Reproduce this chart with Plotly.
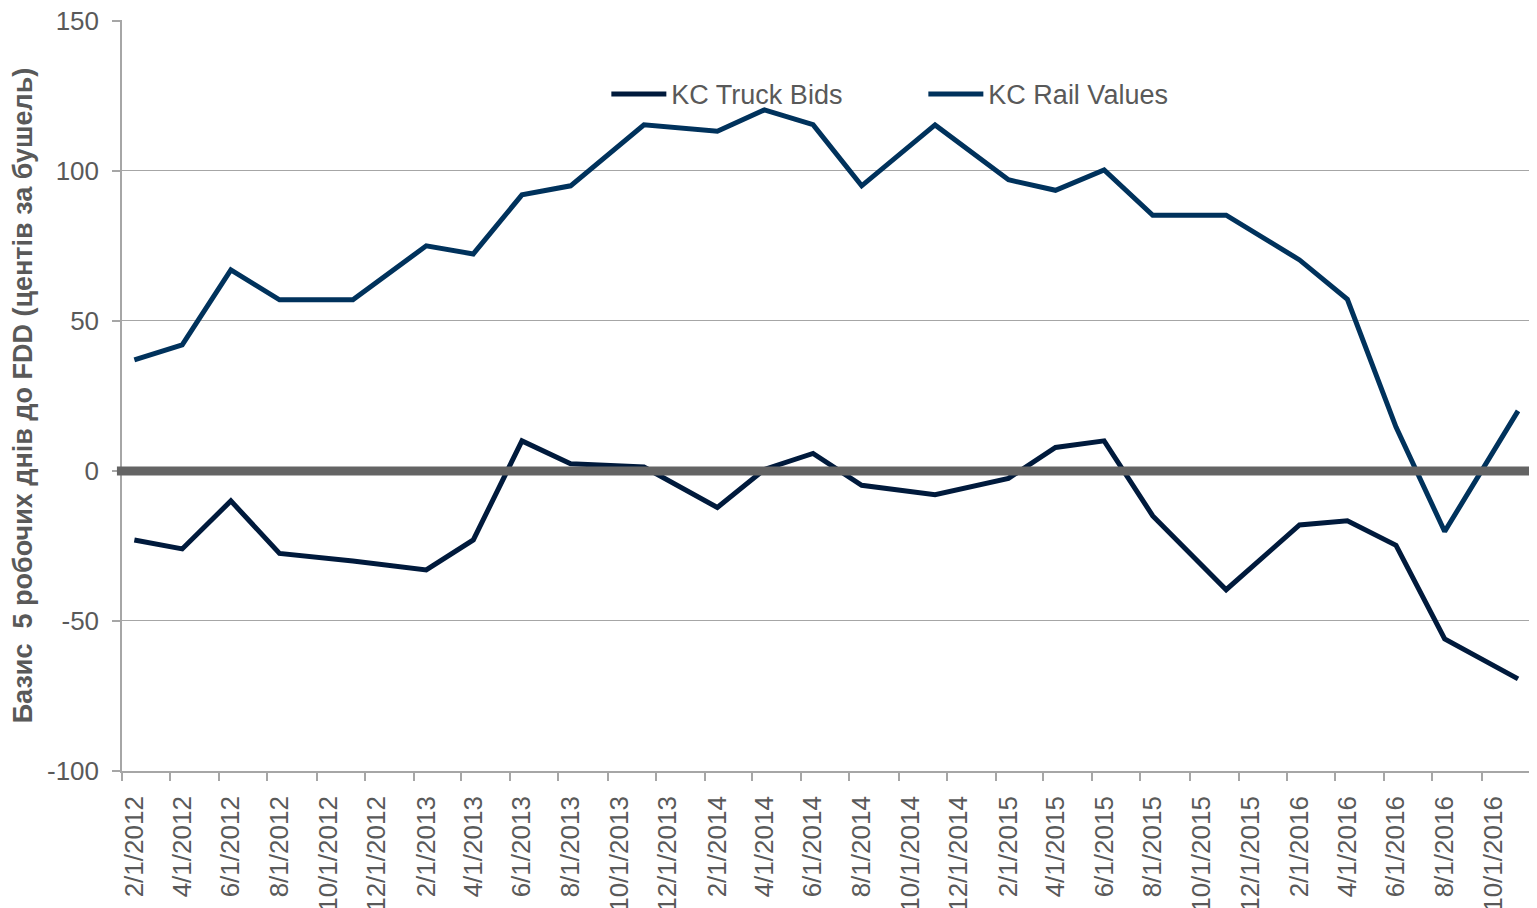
import plotly.graph_objects as go

dates = ["2012-02-01", "2012-04-01", "2012-06-01", "2012-08-01", "2012-11-01",
         "2013-02-01", "2013-04-01", "2013-06-01", "2013-08-01", "2013-11-01",
         "2014-02-01", "2014-04-01", "2014-06-01", "2014-08-01", "2014-11-01",
         "2015-02-01", "2015-04-01", "2015-06-01", "2015-08-01", "2015-11-01",
         "2016-02-01", "2016-04-01", "2016-06-01", "2016-08-01", "2016-11-01"]

truck_bids = [-23, -26, -10, -27.5, -30, -33, -23, 10, 2.4, 1.3,
              -12.2, 0.5, 5.8, -4.8, -7.9, -2.5, 7.8, 10, -15, -39.6,
              -18, -16.6, -24.8, -56, -69.3]

rail_values = [37, 42, 67, 57, 57, 75, 72.3, 92, 95, 115.3,
               113.2, 120.3, 115.4, 95, 115.3, 97, 93.5, 100.3, 85.2, 85.2,
               70.3, 57.2, 14.6, -20.2, 20]

y_ticks = [-100, -50, 0, 50, 100, 150]
y_tick_labels = ["-100", "-50", "0", "50", "100", "150"]

tick_dates = []
tick_labels = []
for y in range(2012, 2017):
    for m in (2, 4, 6, 8, 10, 12):
        if (y == 2016 and m > 10):
            continue
        tick_dates.append(f"{y}-{m:02d}-01")
        tick_labels.append(f"{m}/1/{y}")

GRAY_TXT = "#595959"
AXIS = "#A6A6A6"
FONT = "Liberation Sans, Arial, sans-serif"

fig = go.Figure()
fig.add_trace(go.Scatter(x=dates, y=truck_bids, mode="lines", name="KC Truck Bids",
                         line=dict(color="#001A3C", width=5)))
fig.add_trace(go.Scatter(x=dates, y=rail_values, mode="lines", name="KC Rail Values",
                         line=dict(color="#00325C", width=5)))

fig.add_shape(type="line", xref="paper", yref="y", x0=-0.0036, x1=1.006, y0=0, y1=0,
              line=dict(color="#646464", width=9), layer="above")

fig.update_layout(
    width=1529, height=900,
    margin=dict(l=114, r=7, t=12, b=137, pad=0, autoexpand=False),
    paper_bgcolor="white", plot_bgcolor="white",
    font=dict(family=FONT, size=26, color=GRAY_TXT),
    showlegend=True,
    legend=dict(orientation="h", x=0.344, y=0.901, xanchor="left", yanchor="middle",
                font=dict(size=27, color=GRAY_TXT), bgcolor="rgba(0,0,0,0)",
                entrywidth=247, entrywidthmode="pixels", itemwidth=55),
)

fig.update_xaxes(
    type="date", automargin=False,
    range=["2012-01-16 12:00", "2016-11-16"],
    tickmode="array", tickvals=tick_dates, ticktext=tick_labels,
    tickangle=-90, ticks="", ticklabelstandoff=13,
    tickfont=dict(size=26, color=GRAY_TXT),
    showline=True, linecolor=AXIS, linewidth=1.5,
    showgrid=False, zeroline=False,
    minor=dict(ticks="outside", tick0="2012-01-16 12:00", dtick="M2", ticklen=8,
               tickcolor=AXIS, tickwidth=1.5, showgrid=False),
)

fig.update_yaxes(
    automargin=False,
    range=[-100.001, 150.25], tickmode="array", tickvals=y_ticks, ticktext=y_tick_labels,
    ticks="outside", ticklen=8, tickcolor=AXIS, tickwidth=1.5,
    ticklabelstandoff=8, ticklabeloverflow="allow",
    tickfont=dict(size=26, color=GRAY_TXT),
    showline=True, linecolor=AXIS, linewidth=1.5,
    showgrid=True, gridcolor=AXIS, gridwidth=1.3, zeroline=False,
    title=dict(text="<b>Базис  5 робочих днів до FDD (центів за бушель)</b>",
               font=dict(size=27, color=GRAY_TXT, family="Liberation Sans, Arial, sans-serif"),
               standoff=8),
)

fig.write_html("out.html")
